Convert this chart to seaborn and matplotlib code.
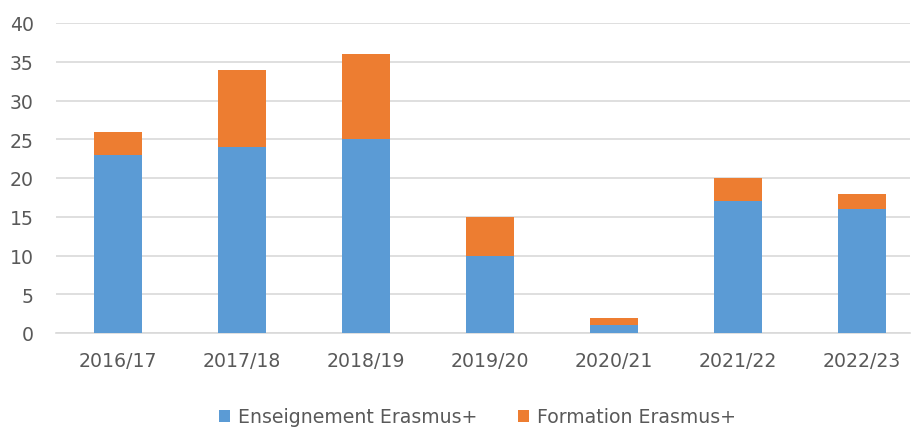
import matplotlib
matplotlib.use("Agg")
import matplotlib.pyplot as plt
import seaborn as sns
import pandas as pd
from matplotlib.patches import Patch

years = ["2016/17", "2017/18", "2018/19", "2019/20", "2020/21", "2021/22", "2022/23"]
enseignement = [23, 24, 25, 10, 1, 17, 16]
formation = [3, 10, 11, 5, 1, 3, 2]
labels = ["Enseignement Erasmus+", "Formation Erasmus+"]
colors = ["#5B9BD5", "#ED7D31"]

sns.set_theme(style="white")
plt.rcParams["font.family"] = ["DejaVu Sans"]

df = pd.DataFrame({"year": years, "ens": enseignement, "form": formation})

fig = plt.figure(figsize=(9.12, 4.31), dpi=100)
W, H = 912, 431
left, right, bottom, top = 56, 910, 334, 24
ax = fig.add_axes([left / W, (H - bottom) / H, (right - left) / W, (bottom - top) / H])

sns.barplot(data=df, x="year", y="ens", color=colors[0], width=0.39, ax=ax,
            saturation=1, edgecolor="none", zorder=3)
sns.barplot(data=df, x="year", y="form", color=colors[1], width=0.39, ax=ax,
            saturation=1, edgecolor="none", bottom=df["ens"], zorder=3)

FS = 13.6
ax.set_ylim(0, 40)
ax.set_yticks(range(0, 41, 5))
ax.set_xlim(-0.5, 6.5 - (924 - 910) / 124)
ax.grid(axis="y", color="#d9d9d9", linewidth=1.2, zorder=0)
ax.set_axisbelow(True)
for s in ["top", "right", "left"]:
    ax.spines[s].set_visible(False)
ax.spines["bottom"].set_color("#d9d9d9")
ax.spines["bottom"].set_linewidth(1.2)
ax.set_xlabel("")
ax.set_ylabel("")
ax.tick_params(axis="both", length=0, labelsize=FS, colors="#595959")
ax.tick_params(axis="y", pad=16)
ax.tick_params(axis="x", pad=13)

handles = [Patch(facecolor=c, edgecolor="none") for c in colors]
fig.legend(handles, labels, loc="center", bbox_to_anchor=(477.5 / W, (H - 418) / H),
           ncol=2, frameon=False, fontsize=FS, labelcolor="#595959",
           handlelength=0.57, handleheight=0.6, handletextpad=0.42, columnspacing=2.2)

fig.savefig("out.png", dpi=100)
